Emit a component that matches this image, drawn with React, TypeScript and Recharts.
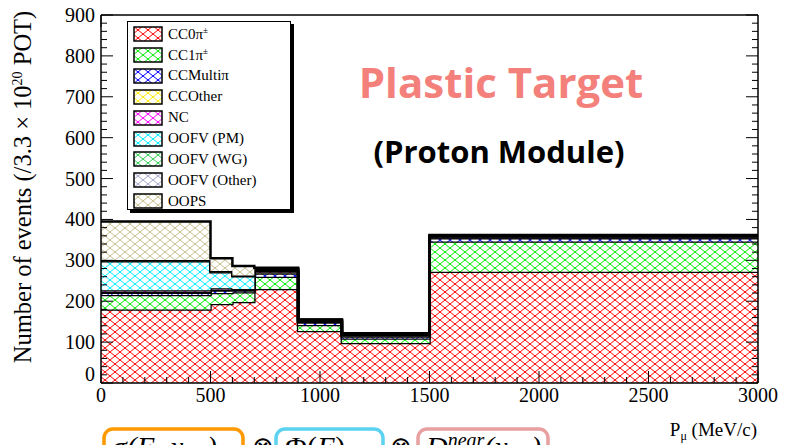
import React from 'react';
import { ComposedChart, Area, XAxis, YAxis, Legend } from 'recharts';

// histogram bin edges in P_mu (MeV/c); last edge closes the last bin
const binEdges = [0, 500, 600, 700, 900, 1100, 1500, 3000];

// events per bin, one value per bin (7 bins)
const cc0pi = [180, 193, 198, 230, 127, 98, 272];
const cc1pi = [35, 27, 24, 30, 15, 11, 74];
const ccMultipi = [6, 6, 4, 8, 6, 5, 8];
const ccOther = [2, 2, 2, 3, 2, 2, 2];
const nc = [4, 4, 2, 3, 2, 2, 2];
const oofvPm = [71, 39, 31, 3, 1, 1, 1];
const oofvWg = [2, 2, 1, 2, 1, 1, 1];
const oofvOther = [1, 1, 1, 1, 0.5, 0.5, 1];
const oops = [94, 31, 23, 2, 1, 1, 1];

const xMajor = [0, 500, 1000, 1500, 2000, 2500, 3000];
const yMajor = [0, 100, 200, 300, 400, 500, 600, 700, 800, 900];
const xTicks = Array.from({ length: 31 }, (_, i) => i * 100);
const yTicks = Array.from({ length: 46 }, (_, i) => i * 20);

const series = [
  { key: 'cc0pi', name: 'CC0π', sup: '±', color: '#ff0000', values: cc0pi },
  { key: 'cc1pi', name: 'CC1π', sup: '±', color: '#00ee00', values: cc1pi },
  { key: 'ccmulti', name: 'CCMultiπ', sup: '', color: '#0000ff', values: ccMultipi },
  { key: 'ccother', name: 'CCOther', sup: '', color: '#ffee00', values: ccOther },
  { key: 'nc', name: 'NC', sup: '', color: '#ff00ff', values: nc },
  { key: 'oofvpm', name: 'OOFV (PM)', sup: '', color: '#00eeff', values: oofvPm },
  { key: 'oofvwg', name: 'OOFV (WG)', sup: '', color: '#33cc55', values: oofvWg },
  { key: 'oofvother', name: 'OOFV (Other)', sup: '', color: '#a8a8d0', values: oofvOther },
  { key: 'oops', name: 'OOPS', sup: '', color: '#c8c090', values: oops },
];

// stepAfter rows: one per edge, the closing edge repeats the last bin
const rows = binEdges.map((p, i) => {
  const row: Record<string, number> = { p };
  const j = Math.min(i, binEdges.length - 2);
  series.forEach((s) => { row[s.key] = s.values[j]; });
  return row;
});

const serif = 'Liberation Serif, Times New Roman, serif';
const sans = 'Open Sans, Lato, sans-serif';

const BottomTick = (props: any) => {
  const { x, y, payload } = props;
  const major = xMajor.includes(payload.value);
  return (
    <g>
      <line x1={x} x2={x} y1={y} y2={y - (major ? 12 : 6)} stroke="#000" strokeWidth={1} />
      {major && (
        <text x={x} y={y + 19} textAnchor="middle" fontFamily={serif} fontSize={20} fill="#000">
          {payload.value}
        </text>
      )}
    </g>
  );
};

const TopTick = (props: any) => {
  const { x, y, payload } = props;
  const major = xMajor.includes(payload.value);
  return <line x1={x} x2={x} y1={y} y2={y + (major ? 12 : 6)} stroke="#000" strokeWidth={1} />;
};

const LeftTick = (props: any) => {
  const { x, y, payload } = props;
  const major = yMajor.includes(payload.value);
  return (
    <g>
      <line x1={x} x2={x + (major ? 12 : 6)} y1={y} y2={y} stroke="#000" strokeWidth={1} />
      {major && (
        <text x={x - 6} y={payload.value === 0 ? y - 2 : y + 7} textAnchor="end" fontFamily={serif} fontSize={20} fill="#000">
          {payload.value}
        </text>
      )}
    </g>
  );
};

const RightTick = (props: any) => {
  const { x, y, payload } = props;
  const major = yMajor.includes(payload.value);
  return <line x1={x} x2={x - (major ? 12 : 6)} y1={y} y2={y} stroke="#000" strokeWidth={1} />;
};

const LegendBox = () => (
  <div
    style={{
      position: 'relative',
      width: 164,
      height: 189,
      background: '#fff',
      border: '1.5px solid #000',
      boxShadow: '3px 3px 0 #000',
      boxSizing: 'border-box',
      fontFamily: serif,
      fontSize: 15,
      color: '#000',
    }}
  >
    {series.map((s, i) => (
      <div key={s.key} style={{ position: 'absolute', left: 5, top: 4 + i * 20.9, height: 16, display: 'flex', alignItems: 'center' }}>
        <svg width={30} height={16} style={{ display: 'block' }}>
          <rect x={1} y={1} width={28} height={14} fill={`url(#h-${s.key})`} stroke="#000" strokeWidth={1.5} />
        </svg>
        <span style={{ marginLeft: 5, whiteSpace: 'nowrap' }}>
          {s.name}
          {s.sup && <sup style={{ fontSize: 9 }}>{s.sup}</sup>}
        </span>
      </div>
    ))}
  </div>
);

export default function App() {
  return (
    <div style={{ position: 'absolute', left: 0, top: 0, width: 787, height: 445, overflow: 'hidden', background: '#fff' }}>
      <ComposedChart width={787} height={445} data={rows} margin={{ top: 14, right: 28, bottom: 32, left: 41 }}>
        <defs>
          {series.map((s) => (
            <pattern key={s.key} id={`h-${s.key}`} patternUnits="userSpaceOnUse" width={10} height={8}>
              <rect width={10} height={8} fill="#fff" />
              <path d="M0,0 L10,8 M10,0 L0,8" stroke={s.color} strokeWidth={1} />
            </pattern>
          ))}
        </defs>
        <XAxis
          xAxisId="b"
          dataKey="p"
          type="number"
          domain={[0, 3000]}
          ticks={xTicks}
          interval={0}
          height={30}
          tickSize={0}
          tickMargin={0}
          tickLine={false}
          axisLine={{ stroke: '#000', strokeWidth: 1.5 }}
          tick={<BottomTick />}
          allowDataOverflow
        />
        <XAxis
          xAxisId="t"
          orientation="top"
          type="number"
          domain={[0, 3000]}
          ticks={xTicks}
          interval={0}
          height={1}
          tickSize={0}
          tickMargin={0}
          tickLine={false}
          axisLine={{ stroke: '#000', strokeWidth: 1.5 }}
          tick={<TopTick />}
          allowDataOverflow
        />
        <YAxis
          yAxisId="l"
          type="number"
          domain={[0, 900]}
          ticks={yTicks}
          interval={0}
          width={60}
          tickSize={0}
          tickMargin={0}
          tickLine={false}
          axisLine={{ stroke: '#000', strokeWidth: 1.5 }}
          tick={<LeftTick />}
          allowDataOverflow
        />
        <YAxis
          yAxisId="r"
          orientation="right"
          type="number"
          domain={[0, 900]}
          ticks={yTicks}
          interval={0}
          width={1}
          tickSize={0}
          tickMargin={0}
          tickLine={false}
          axisLine={{ stroke: '#000', strokeWidth: 1.5 }}
          tick={<RightTick />}
          allowDataOverflow
        />
        {series.map((s) => (
          <Area
            key={s.key}
            xAxisId="b"
            yAxisId="l"
            type="stepAfter"
            dataKey={s.key}
            name={s.name}
            stackId="h"
            stroke="#000"
            strokeWidth={2.5}
            fill={`url(#h-${s.key})`}
            fillOpacity={1}
            dot={false}
            activeDot={false}
            isAnimationActive={false}
          />
        ))}
        <Legend
          layout="horizontal"
          verticalAlign="middle"
          align="center"
          wrapperStyle={{ left: 127, top: 21, width: 170, height: 195 }}
          content={() => <LegendBox />}
        />
      </ComposedChart>

      <svg width={787} height={445} style={{ position: 'absolute', left: 0, top: 0, pointerEvents: 'none' }}>
        <text transform="translate(31,187) rotate(-90)" textAnchor="middle" fontFamily={serif} fontSize={24.5} fill="#000">
          Number of events (/3.3 × 10<tspan dy={-9} fontSize={14}>20</tspan>
          <tspan dy={9}> POT)</tspan>
        </text>
        <text x={757} y={436} textAnchor="end" fontFamily={serif} fontSize={19} fill="#000">
          P<tspan dy={4} fontSize={12}>μ</tspan>
          <tspan dy={-4}> (MeV/c)</tspan>
        </text>
        <text x={501} y={98} textAnchor="middle" fontFamily={sans} fontWeight={700} fontSize={42} fill="#f4807c">
          Plastic Target
        </text>
        <text x={499} y={163} textAnchor="middle" fontFamily={sans} fontWeight={700} fontSize={31} fill="#000">
          (Proton Module)
        </text>
        <rect x={104} y={429} width={139} height={40} rx={9} fill="none" stroke="#ff9900" strokeWidth={3.5} />
        <rect x={276} y={429} width={107} height={40} rx={9} fill="none" stroke="#5bd2f0" strokeWidth={3.5} />
        <rect x={418} y={429} width={130} height={40} rx={9} fill="none" stroke="#e8a0a0" strokeWidth={3.5} />
        <text x={112} y={457} fontFamily={serif} fontStyle="italic" fontSize={30} fill="#000">σ(E, x⃗)</text>
        <text x={252} y={455} fontFamily={serif} fontSize={26} fill="#000">⊗</text>
        <text x={285} y={457} fontFamily={serif} fontSize={30} fill="#000">Φ(<tspan fontStyle="italic">E</tspan>)</text>
        <text x={390} y={455} fontFamily={serif} fontSize={26} fill="#000">⊗</text>
        <text x={426} y={457} fontFamily={serif} fontStyle="italic" fontSize={30} fill="#000">
          D<tspan dy={-10} fontSize={20}>near</tspan>
          <tspan dy={10}>(x⃗)</tspan>
        </text>
      </svg>
    </div>
  );
}
